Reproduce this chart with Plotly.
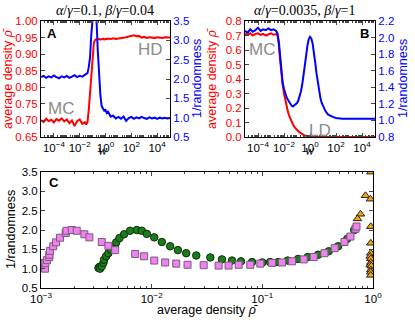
import plotly.graph_objects as go

# ---------------- Panel A data (x = log10 w) ----------------
A_logw = [-5.0,-4.8,-4.6,-4.4,-4.2,-4.0,-3.8,-3.6,-3.4,-3.2,-3.0,-2.8,-2.6,-2.4,-2.2,-2.0,-1.8,-1.6,-1.5,-1.4,
          -1.3,-1.2,-1.1,-1.0,-0.9,-0.8,-0.7,-0.6,-0.5,-0.4,-0.3,-0.2,-0.1,0.0,0.1,0.2,0.4,0.6,0.8,1.0,
          1.2,1.4,1.6,1.8,2.0,2.2,2.4,2.6,2.8,3.0,3.2,3.4,3.6,3.8,4.0,4.2,4.4,4.6,4.8,5.0]
A_density = [0.700,0.695,0.705,0.698,0.702,0.694,0.704,0.699,0.706,0.697,0.703,0.692,0.700,0.683,0.698,0.703,0.690,0.695,0.688,0.695,
             0.730,0.785,0.850,0.905,0.935,0.943,0.944,0.943,0.946,0.944,0.945,0.947,0.944,0.946,0.945,0.947,0.946,0.948,0.946,0.947,
             0.949,0.948,0.951,0.953,0.955,0.957,0.954,0.955,0.950,0.952,0.949,0.951,0.950,0.948,0.951,0.950,0.949,0.951,0.950,0.950]
A_invrand = [2.05,2.08,2.03,2.07,2.04,2.09,2.05,2.02,2.07,2.04,2.08,2.03,2.06,2.10,2.05,2.08,2.06,2.10,2.12,2.15,
             2.30,2.55,3.15,3.75,3.95,3.85,3.55,2.75,2.10,1.60,1.30,1.25,1.18,1.20,1.12,1.15,1.03,1.05,0.98,1.02,
             0.97,1.03,0.92,0.99,1.02,0.97,1.01,0.98,1.02,0.99,0.97,1.01,0.98,1.00,0.97,1.00,0.98,1.00,0.98,0.99]

# ---------------- Panel B data ----------------
B_logw = [-5.0,-4.8,-4.6,-4.4,-4.2,-4.0,-3.8,-3.6,-3.4,-3.2,-3.0,-2.8,-2.6,-2.5,-2.4,-2.3,-2.2,-2.1,-2.0,-1.9,
          -1.8,-1.7,-1.6,-1.5,-1.4,-1.3,-1.2,-1.1,-1.0,-0.9,-0.8,-0.7,-0.6,-0.5,-0.4,-0.3,-0.2,-0.1,0.0,0.1,
          0.2,0.3,0.4,0.5,0.6,0.7,0.8,0.9,1.0,1.2,1.4,1.6,1.8,2.0,2.2,2.5,3.0,3.5,4.0,4.5,5.0]
B_density = [0.710,0.705,0.715,0.700,0.710,0.715,0.705,0.712,0.700,0.710,0.715,0.705,0.710,0.700,0.640,0.530,0.430,0.360,0.300,0.250,
             0.210,0.175,0.145,0.120,0.100,0.085,0.070,0.058,0.048,0.040,0.032,0.025,0.020,0.015,0.011,0.008,0.006,0.004,0.003,0.002,
             0.002,0.001,0.001,0.001,0.0,0.0,0.0,0.0,0.0,0.0,0.0,0.0,0.0,0.0,0.0,0.0,0.0,0.0,0.0,0.0,0.0]
B_invrand = [2.08,2.06,2.10,2.07,2.09,2.12,2.08,2.10,2.09,2.11,2.09,2.10,2.08,2.05,1.95,1.75,1.57,1.45,1.38,1.32,
             1.28,1.25,1.22,1.19,1.175,1.17,1.18,1.19,1.21,1.24,1.29,1.35,1.43,1.53,1.65,1.78,1.90,1.98,2.01,1.99,
             1.93,1.83,1.70,1.57,1.45,1.35,1.27,1.21,1.17,1.11,1.07,1.05,1.04,1.03,1.025,1.02,1.02,1.02,1.02,1.02,1.02]

# ---------------- Panel C data (x = log10 average density) ----------------
sq_logrho = [-2.985,-2.975,-2.970,-2.964,-2.960,-2.945,-2.925,-2.925,-2.919,-2.889,-2.864,-2.828,-2.777,-2.770,-2.722,-2.677,
             -2.608,-2.563,-2.451,-2.391,-2.330,-2.149,-2.068,-1.977,-1.878,-1.778,-1.676,-1.530,-1.395,-1.305,-1.214,-1.109,
             -1.018,-0.912,-0.822,-0.731,-0.626,-0.536,-0.439,-0.346,-0.258,-0.204,-0.158,-0.149]
sq_inv = [1.12,1.10,1.15,1.00,1.14,1.22,1.30,1.36,1.46,1.58,1.68,1.80,1.92,1.98,2.00,1.98,
          1.89,1.81,1.69,1.59,1.48,1.38,1.32,1.21,1.16,1.13,1.10,1.09,1.08,1.08,1.10,1.10,
          1.13,1.15,1.16,1.19,1.24,1.30,1.40,1.53,1.69,1.83,2.03,2.09]

ci_logrho = [-2.481,-2.470,-2.466,-2.451,-2.436,-2.430,-2.412,-2.391,-2.367,-2.335,-2.320,-2.291,-2.249,-2.195,-2.134,-2.089,
             -2.044,-1.977,-1.908,-1.833,-1.763,-1.688,-1.597,-1.470,-1.365,-1.274,-1.193,-1.093,-1.000,-0.930,-0.858,-0.771,
             -0.677,-0.590,-0.496,-0.400,-0.315,-0.233,-0.170]
ci_inv = [1.02,1.05,1.00,1.06,1.15,1.23,1.32,1.40,1.49,1.58,1.68,1.79,1.89,1.98,2.00,1.98,
          1.90,1.81,1.69,1.58,1.48,1.40,1.34,1.29,1.24,1.21,1.19,1.17,1.16,1.17,1.17,1.21,
          1.25,1.30,1.36,1.45,1.58,1.77,2.00]

tr_logrho = [-0.020,-0.068,-0.023,-0.113,-0.140,-0.020,-0.020,-0.020,-0.025,-0.020,-0.020,-0.025,-0.015,-0.020,-0.020,-0.020]
tr_inv = [3.50,2.89,2.80,2.41,2.29,2.09,1.66,1.40,1.32,1.26,1.16,1.10,1.07,0.97,0.91,0.83]

# tick labels
w_tickexp = [-4, -2, 0, 2, 4]
w_ticktext = ["10<sup>−4</sup>", "10<sup>−2</sup>", "10<sup>0</sup>", "10<sup>2</sup>", "10<sup>4</sup>"]
rho_tickexp = [-3, -2, -1, 0]
rho_ticktext = ["10<sup>−3</sup>", "10<sup>−2</sup>", "10<sup>−1</sup>", "10<sup>0</sup>"]

RED = "#ff0000"
BLUE = "#0000ff"
SANS = "Liberation Sans, Arial, sans-serif"
SERIF = "Liberation Serif, Times New Roman, serif"
W, H = 415, 332
TFS = 11.5

def pw(v):
    return [10 ** e for e in v]

fig = go.Figure()
fig.add_trace(go.Scatter(x=pw(A_logw), y=A_density, mode="lines", line=dict(color=RED, width=2),
                         xaxis="x", yaxis="y", showlegend=False))
fig.add_trace(go.Scatter(x=pw(A_logw), y=A_invrand, mode="lines", line=dict(color=BLUE, width=2),
                         xaxis="x", yaxis="y2", showlegend=False))
fig.add_trace(go.Scatter(x=pw(B_logw), y=B_density, mode="lines", line=dict(color=RED, width=2),
                         xaxis="x2", yaxis="y3", showlegend=False))
fig.add_trace(go.Scatter(x=pw(B_logw), y=B_invrand, mode="lines", line=dict(color=BLUE, width=2),
                         xaxis="x2", yaxis="y4", showlegend=False))
fig.add_trace(go.Scatter(x=pw(ci_logrho), y=ci_inv, mode="markers", xaxis="x3", yaxis="y5", showlegend=False,
                         marker=dict(symbol="circle", size=7.5, color="#1c7c1c", line=dict(color="#0b2f0b", width=1))))
fig.add_trace(go.Scatter(x=pw(sq_logrho), y=sq_inv, mode="markers", xaxis="x3", yaxis="y5", showlegend=False,
                         marker=dict(symbol="square", size=7, color="#ee82ee", line=dict(color="#7a5a7a", width=1))))
fig.add_trace(go.Scatter(x=pw(tr_logrho), y=tr_inv, mode="markers", xaxis="x3", yaxis="y5", showlegend=False,
                         marker=dict(symbol="triangle-up", size=7.5, color="#ffa500", line=dict(color="#222222", width=1))))

def minor_vals(lo, hi):
    out = []
    for d in range(lo, hi):
        for m in range(2, 10):
            out.append(m * 10 ** d)
    return out

tickfont = dict(family=SANS, size=TFS, color="black")
common_x = dict(type="log", showline=True, linecolor="black", linewidth=1, mirror="ticks",
                ticks="inside", ticklen=4, showgrid=False, zeroline=False, tickfont=tickfont,
                automargin=False)
common_y = dict(showline=True, linecolor="black", linewidth=1, ticks="inside", ticklen=4,
                showgrid=False, zeroline=False, automargin=False)

ydA = [1 - 137 / H, 1 - 21 / H]
ydC = [1 - 288 / H, 1 - 172 / H]

fig.update_layout(
    width=W, height=H, margin=dict(l=0, r=0, t=0, b=0, autoexpand=False),
    paper_bgcolor="white", plot_bgcolor="white",
    xaxis=dict(common_x, domain=[41 / W, 170 / W], anchor="y", range=[-5, 5],
               tickvals=pw(w_tickexp), ticktext=w_ticktext,
               minor=dict(tickvals=minor_vals(-5, 5), ticks="inside", ticklen=2, showgrid=False)),
    yaxis=dict(common_y, domain=ydA, anchor="x", range=[0.65, 1.0], dtick=0.05, tickformat=".2f",
               tickfont=dict(family=SANS, size=TFS, color=RED)),
    yaxis2=dict(common_y, overlaying="y", anchor="x", side="right", range=[0.5, 3.5], dtick=0.5, tickformat=".1f",
                tickfont=dict(family=SANS, size=TFS, color=BLUE)),
    xaxis2=dict(common_x, domain=[245 / W, 375 / W], anchor="y3", range=[-5, 5],
                tickvals=pw(w_tickexp), ticktext=w_ticktext,
                minor=dict(tickvals=minor_vals(-5, 5), ticks="inside", ticklen=2, showgrid=False)),
    yaxis3=dict(common_y, domain=ydA, anchor="x2", range=[0, 0.8], dtick=0.1, tickformat=".1f",
                tickfont=dict(family=SANS, size=TFS, color=RED)),
    yaxis4=dict(common_y, overlaying="y3", anchor="x2", side="right", range=[0.8, 2.2], dtick=0.2, tickformat=".1f",
                tickfont=dict(family=SANS, size=TFS, color=BLUE)),
    xaxis3=dict(common_x, domain=[41 / W, 373 / W], anchor="y5", range=[-3, 0],
                tickvals=pw(rho_tickexp), ticktext=rho_ticktext,
                minor=dict(tickvals=minor_vals(-3, 0), ticks="inside", ticklen=2, showgrid=False)),
    yaxis5=dict(common_y, domain=ydC, anchor="x3", range=[0.5, 3.5], dtick=0.5, tickformat=".1f",
                mirror="ticks", tickfont=tickfont),
)

def ann(text, px, py, size=12, color="black", family=SANS, angle=0, xanchor="center", yanchor="middle"):
    fig.add_annotation(text=text, x=px / W, y=1 - py / H, xref="paper", yref="paper",
                       showarrow=False, textangle=angle, xanchor=xanchor, yanchor=yanchor,
                       borderpad=0, font=dict(size=size, color=color, family=family))

# titles
ann("<i>α</i>/<i>γ</i>=0.1, <i>β</i>/<i>γ</i>=0.04", 105, 11, size=14, family=SERIF)
ann("<i>α</i>/<i>γ</i>=0.0035, <i>β</i>/<i>γ</i>=1", 305, 11, size=14, family=SERIF)
# y-axis titles
ann("average density <i>ρ̄</i>", 8, 79, size=12.5, color=RED, angle=-90)
ann("1/randomness", 197, 79, size=12.5, color=BLUE, angle=-90)
ann("average density <i>ρ̄</i>", 212, 79, size=12.5, color=RED, angle=-90)
ann("1/randomness", 403, 79, size=12.5, color=BLUE, angle=-90)
ann("1/randomness", 11, 230, size=12.5, color="black", angle=-90)
# x-axis titles
ann("<i>w</i>", 103, 150, size=14, family=SERIF)
ann("<i>w</i>", 310, 150, size=14, family=SERIF)
ann("average density <i>ρ̄</i>", 207, 310, size=12.5)
# panel letters
ann("<b>A</b>", 52, 33, size=13)
ann("<b>B</b>", 364, 33, size=13)
ann("<b>C</b>", 54, 182, size=13)
# phase labels
GRAY = "#8c8c8c"
ann("HD", 150, 49, size=17, color=GRAY)
ann("MC", 61, 108, size=17, color=GRAY)
ann("MC", 262, 50, size=17, color=GRAY)
ann("LD", 320, 130, size=17, color=GRAY)

fig.write_html("out.html", config={"displayModeBar": False},
               post_script="document.body.style.margin='0';document.body.style.overflow='hidden';")
